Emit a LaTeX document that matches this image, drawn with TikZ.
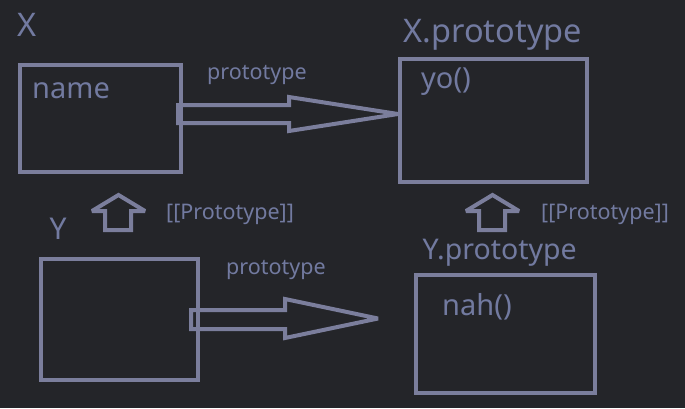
\documentclass[tikz,border=0pt]{standalone}
\usepackage{fontspec}
\setmainfont{Noto Sans}
\usetikzlibrary{positioning}
\definecolor{bgcol}{RGB}{36,37,41}
\definecolor{linecol}{RGB}{123,126,156}
\definecolor{textcol}{RGB}{114,122,160}
\tikzset{
  objbox/.style={rectangle, draw=linecol, line width=4.2pt, inner sep=0pt,
                 outer sep=0pt, line join=miter},
  lbl/.style={anchor=base west, inner sep=0pt, text=textcol},
  big lbl/.style={lbl, font=\fontsize{32.5}{36}\selectfont},
  mid lbl/.style={lbl, font=\fontsize{29}{33}\selectfont},
  annot/.style={lbl, font=\fontsize{21.5}{25}\selectfont},
  blockarr/.style={draw=linecol, line width=4pt, line join=miter,
                   miter limit=2},
}

\begin{document}
\begin{tikzpicture}[x=1pt, y=-1pt]
    \fill[bgcol] (0,0) rectangle (685,408);
    \useasboundingbox (0,0) rectangle (685,408);

    % objects
    \node[objbox, minimum width=161pt, minimum height=107pt] (xbox) at (100.5,118.5) {};
    \node[big lbl] (xname) at (17.5,36) {X};
    \node[mid lbl] (xprop) at (32,98) {name};
    \node[objbox, minimum width=187pt, minimum height=123pt] (xproto) at (493.5,120.5) {};
    \node[big lbl] (xprotoname) at (403.5,42) {X.prototype};
    \node[mid lbl] (xmeth) at (421,88) {yo()};
    \node[objbox, minimum width=157pt, minimum height=121pt] (ybox) at (119.5,319.5) {};
    \node[big lbl, font=\fontsize{30}{34}\selectfont] (yname) at (49.5,239) {Y};
    \node[objbox, minimum width=179pt, minimum height=118pt] (yproto) at (505.5,334) {};
    \node[big lbl, font=\fontsize{28.5}{32}\selectfont] (yprotoname) at (422.5,259) {Y.prototype};
    \node[mid lbl] (ymeth) at (442,315) {nah()};

    % prototype links
    \coordinate (xlink) at ([xshift=-3pt]xbox.east |- 0,114);
    \coordinate (xtip) at ([xshift=-2pt]xproto.west |- 0,114);
    \draw[blockarr] ([yshift=9pt]xlink) -- (289,105) -- (289,97) -- (xtip)
        -- (289,131) -- (289,123) -- ([yshift=-9pt]xlink) -- cycle;
    \node[annot] (xlinklbl) at (207,79) {prototype};
    \coordinate (ylink) at ([xshift=-7pt]ybox.east |- 0,319.5);
    \coordinate (ytip) at (378,318.5);
    \draw[blockarr] ([yshift=9.5pt]ylink) -- (285,310) -- (285,299) -- (ytip)
        -- (285,338) -- (285,329) -- ([yshift=-9.5pt]ylink) -- cycle;
    \node[annot] (ylinklbl) at (226,274) {prototype};

    % [[Prototype]] links
    \coordinate (xup) at (118.5,195);
    \draw[blockarr] (xup) -- (145,211) -- (131,211) -- (131,230) -- (105,230)
        -- (105,211) -- (92,211) -- cycle;
    \node[annot] (xuplbl) at (166,219) {[[Prototype]]};
    \coordinate (yup) at (492.5,195);
    \draw[blockarr] (yup) -- (519,211) -- (505,211) -- (505,230) -- (479,230)
        -- (479,211) -- (466,211) -- cycle;
    \node[annot] (yuplbl) at (541,219) {[[Prototype]]};
\end{tikzpicture}
\end{document}
